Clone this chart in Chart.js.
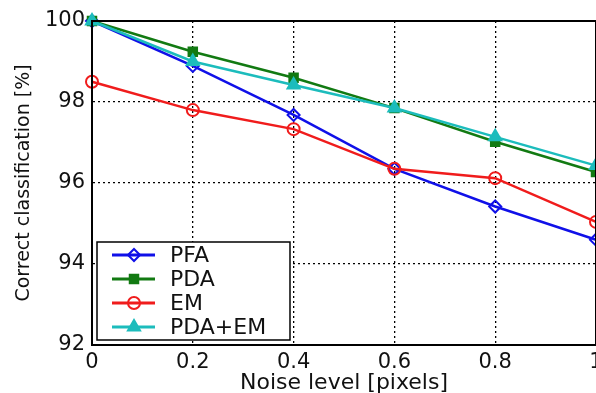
<!DOCTYPE html>
<html>
<head>
<meta charset="utf-8">
<script src="https://cdn.jsdelivr.net/npm/chart.js@4/dist/chart.umd.min.js"></script>
<style>
  html, body { margin: 0; padding: 0; overflow: hidden; background: #fff; }
  #wrap { position: relative; width: 640px; height: 393px; }
</style>
</head>
<body>
<div id="wrap"><canvas id="noiseChart"></canvas></div>
<script>
// noise level (x) and correct classification in % for each method
const noiseLevels = [0, 0.2, 0.4, 0.6, 0.8, 1.0];
const pfaValues = [100, 98.89, 97.68, 96.35, 95.42, 94.6];
const pdaValues = [100, 99.24, 98.6, 97.85, 97.02, 96.27];
const emValues = [98.5, 97.8, 97.33, 96.35, 96.12, 95.04];
const pdaEmValues = [100, 99.0, 98.42, 97.85, 97.14, 96.43];
const seriesNames = ["PFA", "PDA", "EM", "PDA+EM"];

const FONT = "'DejaVu Sans', Verdana, sans-serif";

function toPoints(values) {
  return values.map((v, i) => ({ x: noiseLevels[i], y: v }));
}

// solid box around the plot area (grid lines are dotted)
const frameBox = {
  id: "frameBox",
  afterDatasetsDraw(chart) {
    const { ctx, chartArea: a } = chart;
    ctx.save();
    ctx.strokeStyle = "#000";
    ctx.lineWidth = 2;
    ctx.strokeRect(a.left, a.top, a.right - a.left, a.bottom - a.top);
    ctx.restore();
  }
};

// matlab style legend in the lower left corner of the axes
const boxLegend = {
  id: "boxLegend",
  afterDraw(chart) {
    const { ctx, chartArea: a } = chart;
    const left = a.left + 5, bottom = a.bottom - 5;
    const w = 193, h = 98, rowH = 24;
    const top = bottom - h;
    ctx.save();
    ctx.fillStyle = "#fff";
    ctx.fillRect(left, top, w, h);
    ctx.strokeStyle = "#000";
    ctx.lineWidth = 1.5;
    ctx.strokeRect(left, top, w, h);
    seriesNames.forEach((name, i) => {
      const ds = chart.data.datasets.find(d => d.label === name);
      const y = top + 13 + i * rowH;
      ctx.strokeStyle = ds.borderColor;
      ctx.lineWidth = 3;
      ctx.beginPath();
      ctx.moveTo(left + 15, y);
      ctx.lineTo(left + 58, y);
      ctx.stroke();
      ctx.fillStyle = ds.pointBackgroundColor;
      ctx.strokeStyle = ds.borderColor;
      ctx.lineWidth = 2;
      Chart.helpers.drawPoint(ctx, {
        pointStyle: ds.pointStyle,
        radius: ds.pointRadius,
        rotation: 0,
        borderWidth: 2
      }, left + 37, y);
      ctx.fillStyle = "#111";
      ctx.font = "22px " + FONT;
      ctx.textBaseline = "middle";
      ctx.textAlign = "left";
      ctx.fillText(name, left + 73, y + 1);
    });
    ctx.restore();
  }
};

const ctx = document.getElementById("noiseChart").getContext("2d");
new Chart(ctx, {
  type: "line",
  data: {
    datasets: [
      {
        label: "PFA",
        data: toPoints(pfaValues),
        borderColor: "#1010e8",
        pointBackgroundColor: "rgba(255,255,255,0)",
        pointBorderColor: "#1010e8",
        pointStyle: "rectRot",
        pointRadius: 6,
        order: 3
      },
      {
        label: "PDA",
        data: toPoints(pdaValues),
        borderColor: "#127a12",
        pointBackgroundColor: "#127a12",
        pointBorderColor: "#127a12",
        pointStyle: "rect",
        pointRadius: 6,
        order: 2
      },
      {
        label: "EM",
        data: toPoints(emValues),
        borderColor: "#f01c1c",
        pointBackgroundColor: "rgba(255,255,255,0)",
        pointBorderColor: "#f01c1c",
        pointStyle: "circle",
        pointRadius: 6,
        order: 1
      },
      {
        label: "PDA+EM",
        data: toPoints(pdaEmValues),
        borderColor: "#1cbcbc",
        pointBackgroundColor: "#1cbcbc",
        pointBorderColor: "#1cbcbc",
        pointStyle: "triangle",
        pointRadius: 7,
        order: 0
      }
    ]
  },
  options: {
    responsive: true,
    maintainAspectRatio: false,
    animation: false,
    devicePixelRatio: 1,
    clip: false,
    layout: { padding: { top: 21, right: 44, left: 0, bottom: 0 } },
    elements: {
      line: { borderWidth: 2.5, tension: 0 },
      point: { borderWidth: 2, hoverRadius: 6 }
    },
    plugins: {
      legend: { display: false },
      tooltip: { enabled: false }
    },
    scales: {
      x: {
        type: "linear",
        min: 0,
        max: 1,
        afterFit(scale) { scale.height = 48; },
        ticks: {
          stepSize: 0.2,
          padding: 5,
          color: "#111",
          font: { family: FONT, size: 21 },
          maxRotation: 0,
          callback: v => Number(v.toFixed(1)).toString()
        },
        grid: { color: "#000", lineWidth: 1.3, drawTicks: false },
        border: { display: true, color: "#000", width: 2, dash: [2, 3] },
        title: {
          display: true,
          text: "Noise level [pixels]",
          color: "#111",
          font: { family: FONT, size: 22, lineHeight: 1 },
          padding: { top: 0, bottom: -1 }
        }
      },
      y: {
        min: 92,
        max: 100,
        afterFit(scale) { scale.width = 92; },
        ticks: {
          stepSize: 2,
          padding: 7,
          color: "#111",
          font: { family: FONT, size: 21 }
        },
        grid: { color: "#000", lineWidth: 1.3, drawTicks: false },
        border: { display: true, color: "#000", width: 2, dash: [2, 3] },
        title: {
          display: true,
          text: "Correct classification [%]",
          color: "#111",
          font: { family: FONT, size: 19, lineHeight: 1 },
          padding: { top: 15, bottom: 0 }
        }
      }
    }
  },
  plugins: [frameBox, boxLegend]
});
</script>
</body>
</html>
